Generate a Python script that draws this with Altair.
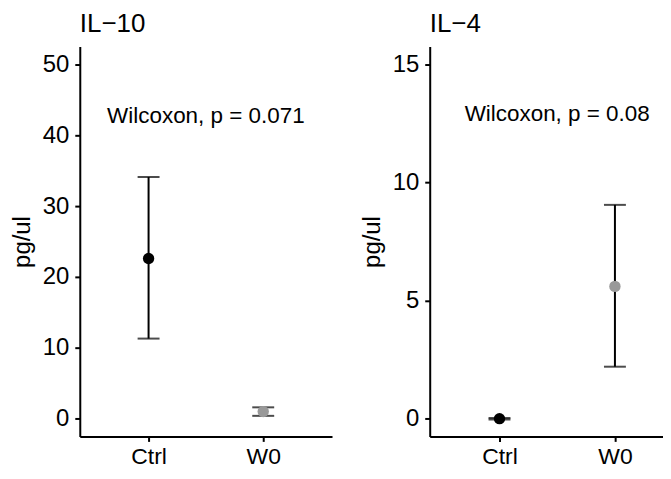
import altair as alt
import pandas as pd

groups = ["Ctrl", "W0"]
colors = ["#000000", "#999999"]

il10_mean = [22.6, 1.0]
il10_lo = [11.3, 0.4]
il10_hi = [34.1, 1.6]
il10_label = "Wilcoxon, p = 0.071"
il10_label_y = 41.7
il10_ticks = [0, 10, 20, 30, 40, 50]
il10_domain = [-2.5, 52.5]

il4_mean = [0.0, 5.6]
il4_lo = [-0.03, 2.2]
il4_hi = [0.03, 9.05]
il4_label = "Wilcoxon, p = 0.08"
il4_label_y = 12.6
il4_ticks = [0, 5, 10, 15]
il4_domain = [-0.75, 15.75]

FONT = "Liberation Sans"
H = 391
LW = 2


def panel(title, mean, lo, hi, label, label_y, ticks, domain, width, pad, align):
    df = pd.DataFrame({"group": groups, "mean": mean, "lo": lo, "hi": hi})
    lab = pd.DataFrame({"group": [groups[0]], "y": [label_y], "text": [label]})
    step = width / (1 + 2 * pad)
    xs = alt.Scale(type="point", domain=groups, padding=pad, align=align)
    x = alt.X("group:N", scale=xs,
              axis=alt.Axis(title=None, labelAngle=0, labelPadding=4,
                            labelFontSize=23))
    ys = alt.Scale(domain=domain, nice=False, zero=False)
    yax = alt.Axis(title="pg/ul", values=ticks, labelPadding=6, titlePadding=8)
    base = alt.Chart(df)
    rule = base.mark_rule(color="black", strokeWidth=LW).encode(
        x=x, y=alt.Y("lo:Q", scale=ys, axis=yax), y2="hi:Q")
    cap_lo = base.mark_tick(color="black", size=22, thickness=LW).encode(
        x=x, y=alt.Y("lo:Q"))
    cap_hi = base.mark_tick(color="black", size=22, thickness=LW).encode(
        x=x, y=alt.Y("hi:Q"))
    pts = base.mark_circle(size=130, opacity=1).encode(
        x=x, y=alt.Y("mean:Q"),
        color=alt.Color("group:N", scale=alt.Scale(domain=groups, range=colors),
                        legend=None))
    txt = alt.Chart(lab).mark_text(
        align="center", baseline="alphabetic", dx=step / 2,
        fontSize=22.5, font=FONT, color="black").encode(
        x=x, y=alt.Y("y:Q"), text="text:N")
    return alt.layer(rule, cap_lo, cap_hi, pts, txt).properties(
        width=width, height=H,
        title=alt.TitleParams(title, anchor="start", frame="group"))


left = panel("IL\u221210", il10_mean, il10_lo, il10_hi, il10_label, il10_label_y,
             il10_ticks, il10_domain, 253, 0.6, 0.5)
right = panel("IL\u22124", il4_mean, il4_lo, il4_hi, il4_label, il4_label_y,
              il4_ticks, il4_domain, 242, 0.545, 0.5546)

chart = alt.hconcat(left, right, spacing=28).properties(
    padding={"left": 2, "top": 2, "right": -8, "bottom": 0}
).configure_view(stroke=None).configure_axis(
    domainColor="black", domainWidth=LW, tickColor="black", tickWidth=LW,
    tickSize=5, labelColor="black", labelFontSize=24, labelFont=FONT,
    titleFont=FONT, titleFontSize=24, titleFontWeight="normal",
    titleColor="black", grid=False
).configure_title(
    fontSize=26, fontWeight="normal", font=FONT, color="black", offset=10
)

chart.save("out.html", embed_options={"renderer": "svg", "actions": False})
